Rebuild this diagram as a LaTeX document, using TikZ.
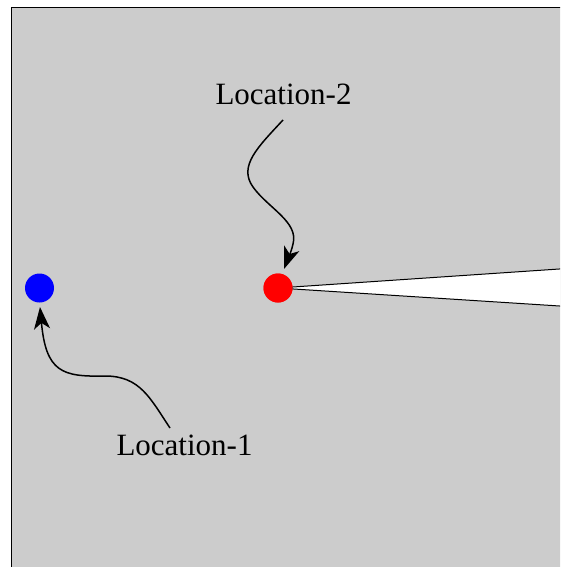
\documentclass[tikz,border=0pt]{standalone}
\usepackage{fontspec}
\setmainfont{Liberation Serif}
\usetikzlibrary{arrows.meta}
\definecolor{bggray}{HTML}{CCCCCC}
\tikzset{
  dot/.style={circle,inner sep=0pt,minimum size=29pt},
  lbl/.style={anchor=base,inner sep=0pt,font=\fontsize{31}{37}\selectfont},
  pointer/.style={line width=1.5pt,-{Stealth[length=22pt,width=16pt,inset=6pt]}},
}
\begin{document}
\begin{tikzpicture}[x=1pt,y=-1pt]
\useasboundingbox (0,0) rectangle (560,567);
\begin{scope}
\clip (0,0) rectangle (560,567);
\fill[white] (0,0) rectangle (560,567);
\fill[bggray] (11.5,7.5) rectangle (620,620);
\draw[line width=1.5pt] (11.5,620) -- (11.5,7.5) -- (620,7.5);
% wedge
\coordinate (wtop) at (580,267.6);
\coordinate (wbot) at (580,307.3);
\node[dot,fill=red] (red) at (278,288) {};
\node[dot,fill=blue] (blue) at (39.5,288) {};
\draw[fill=white,line width=1pt] (red.center) -- (wtop) -- (wbot) -- cycle;
\node[dot,fill=red] at (red) {};
\end{scope}
\node[lbl] (l2) at (283.5,105) {Location-2};
\node[lbl] (l1) at (184.5,455) {Location-1};
\coordinate (s2) at (283,120);
\coordinate (t2) at (284,269);
\coordinate (s1) at (170,428);
\coordinate (t1) at (40,307);
\draw[pointer] (s2) .. controls (258,147) and (238,166) .. (253,187)
  .. controls (268,208) and (299,222) .. (293,244)
  .. controls (291,253) and (287,261) .. (t2);
\draw[pointer] (s1) .. controls (150,398) and (140,376) .. (105,376)
  .. controls (62,377) and (46,372) .. (t1);
\end{tikzpicture}
\end{document}
